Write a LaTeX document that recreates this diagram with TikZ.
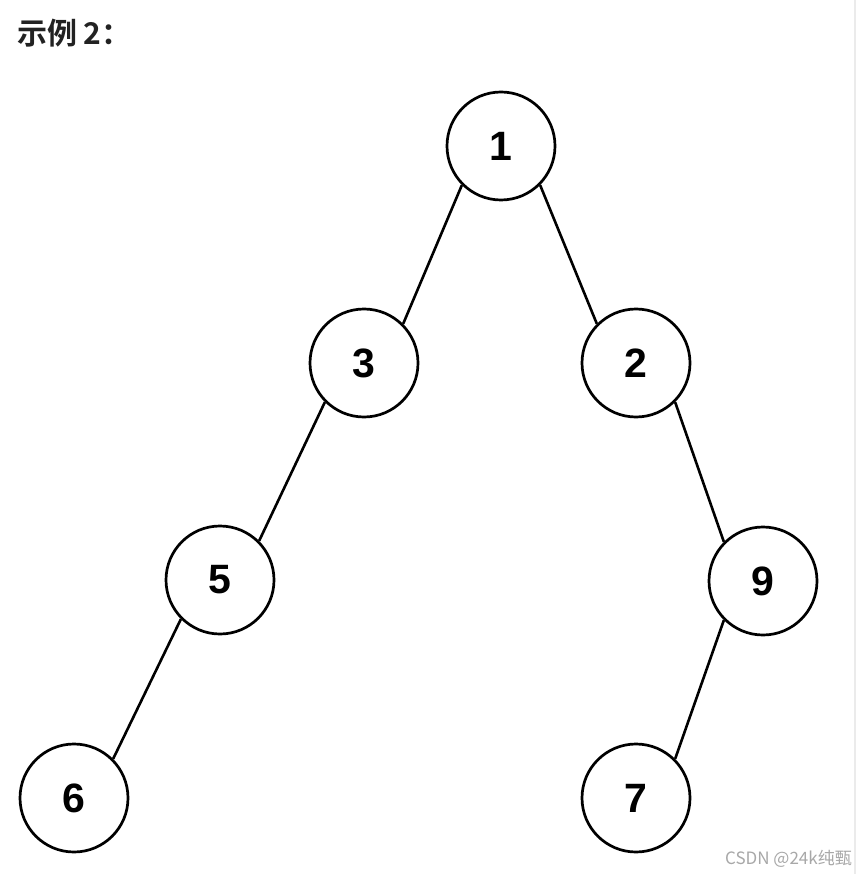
\documentclass[tikz,border=0pt]{standalone}
\usepackage{fontspec}
\setmainfont{Liberation Sans}
\newfontfamily\cjkbold{Noto Sans CJK SC Bold}
\newfontfamily\cjkreg{Noto Sans CJK SC}
\definecolor{titlegray}{HTML}{222222}
\definecolor{wmgray}{HTML}{A8A8A8}
\definecolor{stripgray}{HTML}{EBEBEB}
\begin{document}
\begin{tikzpicture}[x=1pt,y=-1pt,
  treenode/.style={circle,draw=black,line width=2.7pt,minimum size=108pt,inner sep=0pt,
    font=\fontsize{41}{41}\selectfont\bfseries},
  treeedge/.style={draw=black,line width=2.6pt}]
\useasboundingbox[fill=white] (0,0) rectangle (856,874);
\fill[stripgray] (853.5,0) rectangle (856,874);
\node[anchor=west,text=titlegray,font=\cjkbold\fontsize{30}{30}\selectfont,inner sep=0pt] (title) at (17,33) {示例 2：};
\node[treenode] (n1) at (501,146) {1};
\node[treenode] (n3) at (364,363) {3};
\node[treenode] (n2) at (636,363) {2};
\node[treenode] (n5) at (220,580) {5};
\node[treenode] (n9) at (763,581) {9};
\node[treenode] (n6) at (74,798) {6};
\node[treenode] (n7) at (636,798) {7};
\draw[treeedge] (n1.225) -- (n3.45);
\draw[treeedge] (n1.315) -- (n2.135);
\draw[treeedge] (n3.225) -- (n5.45);
\draw[treeedge] (n2.315) -- (n9.135);
\draw[treeedge] (n5.225) -- (n6.45);
\draw[treeedge] (n9.225) -- (n7.45);
\node[anchor=east,text=wmgray,font=\cjkreg\fontsize{17}{17}\selectfont,inner sep=0pt] (wm) at (852,859) {CSDN @24k纯甄};
\end{tikzpicture}
\end{document}
